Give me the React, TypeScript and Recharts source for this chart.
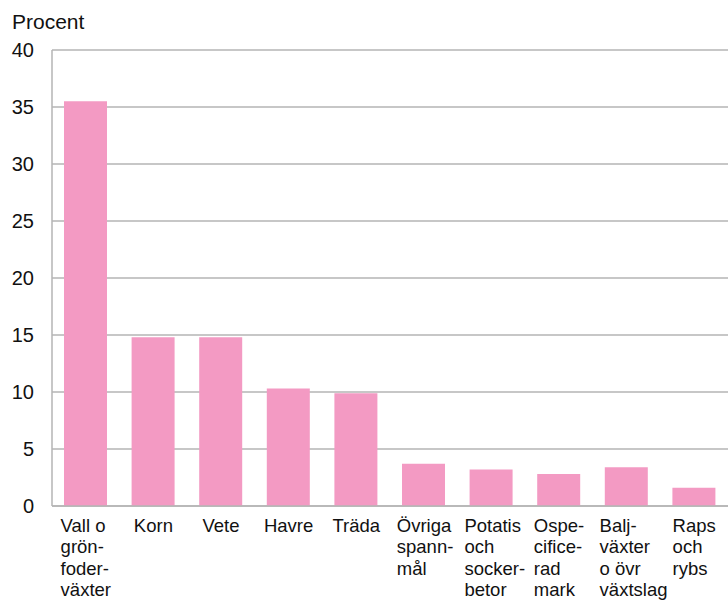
import React from 'react';
import { BarChart, Bar, XAxis, YAxis, CartesianGrid, Label } from 'recharts';

const categories = [
  'Vall o\ngrön-\nfoder-\nväxter',
  'Korn',
  'Vete',
  'Havre',
  'Träda',
  'Övriga\nspann-\nmål',
  'Potatis\noch\nsocker-\nbetor',
  'Ospe-\ncifice-\nrad\nmark',
  'Balj-\nväxter\no övr\nväxtslag',
  'Raps\noch\nrybs',
];
const shares = [35.5, 14.8, 14.8, 10.3, 9.9, 3.7, 3.2, 2.8, 3.4, 1.6];
const yTicks = [0, 5, 10, 15, 20, 25, 30, 35, 40];

const data = categories.map((name, i) => ({ name, value: shares[i] }));

const FONT = '"Liberation Sans", Arial, Helvetica, sans-serif';
const GRID = '#b5b5b5';
const PINK = '#f39ac3';

let ctx: CanvasRenderingContext2D | null = null;
const measure = (s: string, size: number) => {
  if (!ctx) ctx = document.createElement('canvas').getContext('2d');
  if (!ctx) return s.length * size * 0.5;
  ctx.font = `${size}px ${FONT}`;
  return ctx.measureText(s).width;
};

// multi-line category label, lines left-aligned, block roughly centred on the bar
const CategoryTick = (props: any) => {
  const { x, y, payload } = props;
  const lines: string[] = String(payload.value).split('\n');
  const w = Math.max(...lines.map((l) => measure(l, 18.5)));
  const left = x - Math.min(w / 2, 27);
  return (
    <text x={left} y={y + 23.5} fontSize={18.5} fontFamily={FONT} fill="#111">
      {lines.map((l, i) => (
        <tspan key={i} x={left} dy={i === 0 ? 0 : 21.6}>
          {l}
        </tspan>
      ))}
    </text>
  );
};

export default function App() {
  return (
    <div style={{ position: 'absolute', left: 0, top: 0, background: '#fff' }}>
      <BarChart
        width={728}
        height={600}
        data={data}
        margin={{ top: 50, right: 0, left: 0, bottom: 0 }}
      >
        <CartesianGrid vertical={false} stroke={GRID} strokeWidth={1.5} />
        <XAxis
          dataKey="name"
          height={94}
          interval={0}
          tickLine={false}
          tickSize={0}
          axisLine={{ stroke: GRID, strokeWidth: 1.5 }}
          tick={<CategoryTick />}
        />
        <YAxis
          width={52}
          domain={[0, 40]}
          ticks={yTicks}
          tickLine={false}
          tickSize={0}
          tickMargin={18}
          axisLine={{ stroke: GRID, strokeWidth: 1.5 }}
          tick={{ fontSize: 20, fontFamily: FONT, fill: '#111' }}
        >
          <Label
            content={() => (
              <text x={12} y={29} fontSize={21} fontFamily={FONT} fill="#111">
                Procent
              </text>
            )}
          />
        </YAxis>
        <Bar dataKey="value" fill={PINK} barSize={43} isAnimationActive={false} />
      </BarChart>
    </div>
  );
}
